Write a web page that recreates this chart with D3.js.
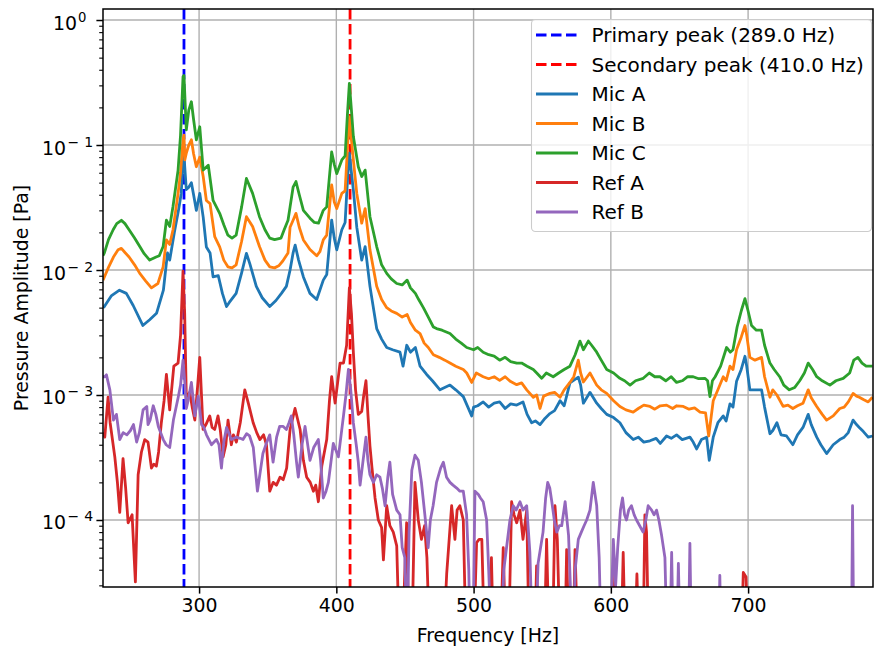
<!DOCTYPE html>
<html><head><meta charset="utf-8">
<script src="https://cdn.jsdelivr.net/npm/d3@7"></script>
<style>
body{margin:0;background:#fff}
svg{display:block}
text{font-family:"DejaVu Sans",sans-serif;fill:#000}
</style>
</head><body>
<svg id="chart" width="874" height="652"></svg>
<script>
// ---------------- data ----------------
const micAFreq = [230,231,236,242,247,252,259,264,269,274,277,278.6,282,285,287,288.3,289,290.7,292.5,294.4,296,298,300.5,303,305.3,308,310.2,314,317,320,322,327,331,334.5,337,341.7,346,351.5,356,360,363.6,366.3,368.5,370,372.5,376,380.8,385.7,390.5,393,396.6,398.5,400.3,404,406.4,408,409.5,411,412.4,414.9,418.5,421,424.5,429.4,433,436.7,441,446.4,448.6,451.3,454,457.6,461,465.8,470,475.5,482.8,487,492.5,498.6,500,503,507,511,515,519,523,527,531.4,536,539,542.3,545,548.4,552,555.6,559,563,566,570.2,576.3,578,580,584.8,589.7,593,597,602,606.6,611,616.3,620,624,628.5,633,636,640.6,644,647.9,652,657.6,660,662.5,666,669.8,671.7,674.6,678,681.9,684,686.8,689,691.6,695,697.7,699,701.3,705,709.8,712,715.9,718,721,724,728,732.6,736,740,743.8,746,750,753,757.2,762,766.8,770,773,776.5,779,781,784,787.5,790.6];
const micAVal = [0.0050,0.0051,0.0062,0.0069,0.0065,0.0052,0.0036,0.0040,0.0045,0.0069,0.0137,0.012,0.020,0.030,0.041,0.076,0.082,0.044,0.046,0.050,0.040,0.030,0.041,0.0265,0.0153,0.0137,0.0088,0.009,0.0065,0.0051,0.0055,0.0065,0.0095,0.0136,0.0112,0.0074,0.006,0.0051,0.0057,0.0065,0.0074,0.010,0.0137,0.0158,0.012,0.0088,0.0065,0.0058,0.0083,0.0092,0.0251,0.018,0.0145,0.021,0.024,0.05,0.086,0.06,0.0437,0.022,0.012,0.0154,0.0074,0.0034,0.0028,0.0024,0.0023,0.0022,0.0017,0.0025,0.0022,0.0024,0.0017,0.00146,0.0013,0.0011,0.0012,0.0011,0.00097,0.00068,0.0008,0.00082,0.00088,0.0008,0.00086,0.00088,0.00078,0.00085,0.00083,0.00088,0.0007,0.0006,0.00062,0.00058,0.00065,0.00071,0.00075,0.0009,0.00082,0.00125,0.00139,0.0012,0.00086,0.00105,0.00086,0.00078,0.0007,0.00066,0.0006,0.0005,0.00044,0.00046,0.00042,0.00043,0.00045,0.00041,0.00047,0.00045,0.00048,0.00044,0.00046,0.00042,0.00037,0.00044,0.00046,0.0003,0.00046,0.0006,0.00068,0.00062,0.00085,0.0008,0.00129,0.0016,0.00204,0.0017,0.0011,0.0011,0.0011,0.0008,0.00049,0.00052,0.0006,0.00048,0.00047,0.0004,0.00048,0.00055,0.0007,0.00058,0.00046,0.0004,0.00034,0.0004,0.00044,0.00046,0.0005,0.00063,0.00058,0.00055,0.00051,0.00046,0.00047];

const micBFreq = [230,231,234,237.6,241,243.4,246,249,253,256.8,261,265.3,270,273.8,276.2,278.6,281,284.7,286.5,288.3,289,289.6,290.7,292.5,294.4,296,298,300.5,303,305.3,308,311.4,315,318,321,324,327,331,334.5,339,344,348,351.5,355,358,361,364.8,366.3,368.5,370.6,373,376,380.8,385.7,388,390.5,393,396.6,398.5,400.3,404,406.4,408,409.5,411,412.4,414.9,418.5,421,424.5,429.4,433,436.7,440,444,448,451.6,454,457.6,461,464,467,470.7,475,479,482.8,487,492.5,495,498.6,502,507,511,515,519,523,527,531.4,535,538.7,543.5,546,548.4,551,555.6,559,563,566,570.2,573,576.3,578,580,584.8,589.7,593,597,602,606.6,611,616.3,620,624,628.5,632,636,640.6,645,648,652.8,657,661,665,669,671.3,674.6,678,681.9,684,686.8,689,691.6,695,697.7,699,701.3,705,709.8,712,715.9,718,721,725.5,729,732.6,736,740,743.8,746,750,754,757.2,762,766.8,770,773,776.5,779,781,784,787.5,790.6];
const micBVal = [0.0083,0.0088,0.0105,0.0127,0.0145,0.0149,0.0138,0.0127,0.011,0.0094,0.0082,0.0072,0.0078,0.0106,0.0174,0.016,0.021,0.041,0.06,0.11,0.12,0.076,0.086,0.1,0.11,0.085,0.067,0.08,0.056,0.036,0.034,0.0185,0.0153,0.012,0.0106,0.0104,0.011,0.017,0.0267,0.0223,0.0154,0.012,0.0106,0.0104,0.0108,0.0118,0.0137,0.022,0.025,0.0284,0.022,0.0174,0.0146,0.013,0.014,0.0174,0.019,0.048,0.035,0.031,0.041,0.043,0.09,0.168,0.11,0.076,0.041,0.0237,0.031,0.0145,0.0074,0.0058,0.005,0.0047,0.0045,0.0042,0.0044,0.0038,0.0033,0.0031,0.0026,0.0024,0.0021,0.002,0.0019,0.0018,0.0017,0.0016,0.0015,0.00126,0.0015,0.0014,0.00135,0.0014,0.00131,0.0014,0.00128,0.00121,0.00125,0.0011,0.00096,0.001,0.00078,0.00098,0.00103,0.00105,0.00096,0.0011,0.00126,0.0014,0.0019,0.0015,0.00127,0.0015,0.0012,0.0011,0.00103,0.0009,0.00081,0.00076,0.00073,0.00078,0.00083,0.00081,0.00077,0.00082,0.00083,0.00078,0.00082,0.00081,0.00077,0.00079,0.00073,0.00072,0.00047,0.0009,0.0011,0.0014,0.0013,0.0017,0.0016,0.0023,0.0029,0.0036,0.003,0.002,0.0019,0.002,0.0014,0.00096,0.0011,0.001,0.00081,0.00083,0.00078,0.00082,0.00086,0.0011,0.00095,0.00081,0.0007,0.00063,0.00068,0.00078,0.0008,0.00088,0.00103,0.00098,0.00096,0.00092,0.00088,0.00096];

const micCFreq = [230,231,234,237.4,240,243.4,246,249,253,256.8,260,264,268.7,271,273.8,276.2,278.6,281,284.7,286.5,288.3,289,290.7,292.5,294.4,296,298,300.5,303,306.7,310.2,315,318,321,324,327,331,334.5,339,344,348,351.5,355,359.7,362,364.8,366.3,368.5,370.6,373,376,380.8,384,387,390.5,393,396.6,398.5,400.3,404,406.4,408,409.5,411,412.4,416,418.5,421,424.5,429.4,433,436.7,440,444,448,451.6,454,457.6,460,463.4,467,470.7,473,477,482.8,487,491,495,500,503,507,511,515,519,523,527,531.4,535,539,543.5,546,549.6,553,558,562,566,570.2,574,577.5,580,583.6,586,589.7,593,597,602,606.6,610,614,618,623.6,628,632,635.8,640,644,647.9,652,656,660,664,668.5,670.5,672.2,674,676,680,684.3,687,689,692,695,697.7,700,702.5,706,709.8,712,715.9,719,723,726,730,734,737.6,741,743.8,747,750,754,759.6,764,769.3,774,777,780,783,786,790.6];
const micCVal = [0.013,0.0137,0.0175,0.021,0.0235,0.025,0.0235,0.021,0.018,0.0154,0.0135,0.012,0.0127,0.013,0.0154,0.025,0.0223,0.0322,0.063,0.12,0.352,0.36,0.132,0.19,0.222,0.16,0.11,0.14,0.063,0.069,0.036,0.0284,0.023,0.019,0.018,0.019,0.032,0.054,0.041,0.0267,0.021,0.018,0.0175,0.018,0.021,0.025,0.032,0.046,0.051,0.04,0.03,0.026,0.024,0.0237,0.03,0.032,0.088,0.07,0.059,0.076,0.082,0.17,0.311,0.19,0.117,0.067,0.056,0.063,0.0267,0.0154,0.011,0.0094,0.0085,0.0078,0.0076,0.0083,0.0072,0.0065,0.0058,0.005,0.0042,0.0035,0.0034,0.0033,0.0031,0.0028,0.0026,0.0024,0.0023,0.0024,0.0022,0.0021,0.00205,0.0019,0.002,0.00185,0.0018,0.0018,0.0017,0.0016,0.0015,0.00136,0.0015,0.0014,0.0015,0.0016,0.0017,0.0021,0.0027,0.0023,0.0027,0.0025,0.0022,0.0019,0.0016,0.0015,0.00136,0.0013,0.0012,0.0013,0.00136,0.0015,0.0014,0.0014,0.0013,0.0014,0.00126,0.0013,0.0014,0.0014,0.00135,0.00136,0.0013,0.00097,0.0013,0.0014,0.0017,0.0024,0.0022,0.0023,0.0035,0.0047,0.0059,0.0047,0.0036,0.0033,0.0033,0.0025,0.0018,0.0016,0.0014,0.0012,0.0011,0.00115,0.0013,0.0015,0.0018,0.0016,0.0014,0.0013,0.0012,0.0013,0.00136,0.0015,0.0019,0.002,0.0018,0.0017,0.0017];

const refAFreq = [230,231.3,233.7,235.2,238.6,240.5,242.2,244.6,246.5,248.3,251.2,253.6,255.6,258,260.4,262.8,265.3,267,268.9,270.5,272.5,274.5,276.2,278.6,281.6,284.7,286.5,288.3,289.5,290.7,293.2,295,296.9,299,300.5,302.9,305,307.8,309.5,311.4,313.8,315.5,317.5,319.5,321.1,323.5,325,327.2,330,333.3,336,339.4,342,344.3,347,349.1,351.5,354,356.4,359,361.3,363.8,366.3,369.9,373.6,376,378.4,381,383.3,385,386.9,389.4,393,395,396.6,399.1,402.7,405.2,407.5,409.5,411,412.4,414,416,418.5,420,421.6,423,424.5,426,428.2,430.6,433,434.3,436.7,439,441.5,444,446,448,451.2,453,455,457.3,459.7,462,464.3,466,468,478,480.4,484,486.4,488,490,492.5,494.5,500,502.2,504,506,508,511,513,514.5,519.5,521.6,523.5,525.5,527.7,529.5,531.4,533.8,536,538.7,540.5,544.5,545.9,547.5,551.5,553.2,555,557.5,559.3,561,563,566.5,567.8,569.5,572.5,573.9,576,601.5,603,604.5,607.5,609,610.5,617.5,619,620.5,623.5,624.8,626,627.5,695,696.5,698.5,700,790.6];
const refAVal = [0.0005,0.00046,0.00096,0.0006,0.00032,0.0002,0.000115,0.00031,0.00018,0.000095,0.00011,0.000032,0.00023,0.00035,0.00044,0.00042,0.00026,0.00028,0.00027,0.00035,0.0006,0.0009,0.00146,0.00076,0.0017,0.0018,0.003,0.0098,0.0045,0.00096,0.00105,0.0008,0.00063,0.0012,0.002,0.00053,0.00058,0.00068,0.00055,0.00053,0.00068,0.00052,0.00032,0.0004,0.00063,0.0004,0.00048,0.00042,0.0006,0.0011,0.00085,0.0006,0.0005,0.00044,0.00048,0.0004,0.00017,0.0002,0.00019,0.00022,0.00021,0.00026,0.00053,0.00078,0.00053,0.0003,0.00022,0.0002,0.00017,0.00019,0.00014,0.00027,0.00044,0.0009,0.0014,0.00086,0.0018,0.0018,0.0025,0.0072,0.0045,0.0022,0.0011,0.0007,0.00074,0.001,0.0013,0.0007,0.00039,0.00026,0.00015,0.0001,0.000087,0.000048,0.00013,0.00009,0.00008,0.000062,0.00001,0.00001,0.000095,0.00001,0.00001,0.0002,0.0001,0.00007,0.00009,0.00005,0.00001,0.00001,0.000037,0.00013,0.00007,0.00012,0.00013,0.0001,0.00001,0.00001,0.000066,0.00007,0.00007,0.00001,0.00001,0.00005,0.00001,0.00001,0.00006,0.00001,0.00001,0.00014,0.00011,0.000095,0.00012,0.00007,0.00012,0.00001,0.00001,0.000043,0.00001,0.00001,0.00007,0.00001,0.00001,0.00013,0.00007,0.00001,0.00001,0.000058,0.00001,0.00001,0.000058,0.00001,0.00001,0.000043,0.00001,0.00001,0.000055,0.00001,0.00001,0.000037,0.00001,0.00001,0.00011,0.00008,0.00001,0.00001,0.000038,0.000035,0.00001,0.00001];

const refBFreq = [230,231.3,232.5,235,237.6,239.8,242.2,244.7,247.4,250,252.2,254.5,256.5,259.2,261.9,262.8,264.3,266.6,268.5,270.3,273.9,276,278.6,281.3,284.8,286.5,288.3,289.5,290.7,292,294.4,295.8,296.9,299.4,301.8,303.5,305.4,309,312.7,314.5,316.3,318,320,323.5,327,330,332,334.6,336.8,339.5,342.5,346.5,349,351.5,353.9,356.5,358.7,361.3,363.6,365.5,367.2,369,371,372.3,375,377.2,380.8,383.5,386.9,388.5,390.5,392.5,394.2,397.8,401.5,405.2,407,408.8,410.5,412.4,414.5,416,417.3,419.5,421.6,423,424.5,427,429.4,431.8,433.5,435.5,437.5,439,441,444,446.4,448,449.9,451.5,453,455,457.3,459.7,462,464.5,466.9,468.5,470.5,473,476,478,480.3,482.8,485,487.7,490,492.5,494.9,496.5,497.5,499.5,501,503.5,505,507,509.5,511,513,520,522,524,526.5,528.9,531,533.8,536,538.7,541,543,545,547,550.6,552.5,554,555.5,557,558.8,560.6,562.5,564.2,566.7,569.2,570.5,572.5,574,576.3,578.5,580.5,582.4,584.8,587.2,589.7,591.5,593,599.5,601.8,603.5,605,607,608.5,610,611.4,613,615,617,618.7,621,623.5,625.5,627.2,629.7,631.5,633.3,635,637,639.4,641,643,644.3,645.5,648,649.2,650.5,656.5,657.6,658.7,678.5,679.4,680.3,775.3,776.1,777,790.6];
const refBVal = [0.0014,0.0014,0.00145,0.0011,0.00063,0.0007,0.00044,0.0005,0.00048,0.00052,0.00058,0.00042,0.0005,0.00076,0.00081,0.00058,0.00063,0.00082,0.0007,0.00056,0.00044,0.0004,0.00038,0.00063,0.00096,0.0012,0.0019,0.0013,0.00078,0.0009,0.00126,0.0009,0.00068,0.00098,0.00058,0.00055,0.00048,0.0004,0.00044,0.0004,0.00026,0.00042,0.00055,0.00044,0.00046,0.00045,0.00044,0.00049,0.00047,0.00038,0.00017,0.00034,0.00041,0.00048,0.00029,0.00046,0.00056,0.00056,0.00053,0.0006,0.00068,0.00048,0.00029,0.00022,0.0004,0.00056,0.0003,0.00038,0.00044,0.0003,0.00015,0.00017,0.0002,0.00041,0.00032,0.00068,0.001,0.0016,0.0011,0.0006,0.0004,0.00029,0.00019,0.0003,0.00046,0.0003,0.00023,0.0002,0.00023,0.00022,0.00018,0.00013,0.00022,0.00029,0.00016,0.00012,0.00011,0.00006,0.00005,0.00001,0.00008,0.00025,0.00033,0.0003,0.0002,0.00011,0.00006,0.0001,0.00013,0.0002,0.00026,0.00029,0.00022,0.0002,0.00019,0.00018,0.00017,0.00017,0.00011,0.00004,0.00001,0.00001,0.00017,0.00016,0.00015,0.00014,0.0001,0.00004,0.00001,0.00001,0.00004,0.00006,0.0001,0.00013,0.00012,0.00014,0.00012,0.00013,0.000055,0.00001,0.00001,0.000045,0.00008,0.00015,0.0002,0.00018,0.00014,0.0001,0.00008,0.00009,0.00009,0.00014,0.000075,0.00003,0.00001,0.00004,0.00007,0.00008,0.00009,0.0001,0.00012,0.0002,0.00013,0.00005,0.00001,0.00001,0.00007,0.00003,0.00006,0.00012,0.00015,0.00011,0.0001,0.00012,0.00013,0.00011,0.0001,0.00009,0.00008,0.0001,0.00013,0.00012,0.00011,0.00012,0.0001,0.000075,0.00005,0.00001,0.00001,0.000055,0.00001,0.00001,0.000045,0.00001,0.00001,0.000065,0.00001,0.00001,0.000036,0.00001,0.00001,0.00013,0.00001,0.00001];

const seriesNames = ["Mic A","Mic B","Mic C","Ref A","Ref B"];
const seriesColors = ["#1f77b4","#ff7f0e","#2ca02c","#d62728","#9467bd"];
const peakFreqs = [289.0, 410.0];
const peakNames = ["Primary peak (289.0 Hz)","Secondary peak (410.0 Hz)"];
const peakColors = ["#0000ff","#ff0000"];
const xTickValues = [300,400,500,600,700];
const yTickExponents = [-4,-3,-2,-1,0];
const xDomain = [230, 791];
const yDomain = [2.91e-5, 1.225];

// ---------------- chart ----------------
const svg = d3.select("#chart");
const L = 103, T = 9, R = 873, B = 587;
const x = d3.scaleLinear().domain(xDomain).range([L, R]);
const y = d3.scaleLog().domain(yDomain).range([B, T]);

const series = [
  {name: seriesNames[0], color: seriesColors[0], f: micAFreq, v: micAVal},
  {name: seriesNames[1], color: seriesColors[1], f: micBFreq, v: micBVal},
  {name: seriesNames[2], color: seriesColors[2], f: micCFreq, v: micCVal},
  {name: seriesNames[3], color: seriesColors[3], f: refAFreq, v: refAVal},
  {name: seriesNames[4], color: seriesColors[4], f: refBFreq, v: refBVal}
];

svg.append("defs").append("clipPath").attr("id","clip")
  .append("rect").attr("x", L).attr("y", T).attr("width", R - L).attr("height", B - T);

// grid
const majorY = yTickExponents.map(e => Math.pow(10, e));
const grid = svg.append("g").attr("stroke", "#b0b0b0").attr("stroke-width", 1.4);
grid.selectAll("line.gx").data(xTickValues).join("line")
  .attr("x1", d => x(d)).attr("x2", d => x(d)).attr("y1", T).attr("y2", B);
grid.selectAll("line.gy").data(majorY).join("line")
  .attr("x1", L).attr("x2", R).attr("y1", d => y(d)).attr("y2", d => y(d));

const plot = svg.append("g").attr("clip-path", "url(#clip)");

// peak lines
plot.selectAll("line.peak").data(peakFreqs).join("line")
  .attr("x1", d => x(d)).attr("x2", d => x(d)).attr("y1", T).attr("y2", B)
  .attr("stroke", (d, i) => peakColors[i]).attr("stroke-width", 2.8)
  .attr("stroke-dasharray", "10.5,4.5");

// series
const line = d3.line().x(d => x(d[0])).y(d => y(d[1]));
series.forEach(s => {
  const pts = s.f.map((f, i) => [f, s.v[i]]);
  plot.append("path").datum(pts).attr("d", line)
    .attr("fill", "none").attr("stroke", s.color).attr("stroke-width", 2.8)
    .attr("stroke-linejoin", "round");
});

// axes
const xAxis = d3.axisBottom(x).tickValues(xTickValues).tickSize(6.6).tickPadding(5).tickFormat(d3.format("d"));
const gx = svg.append("g").attr("transform", `translate(0,${B})`).call(xAxis);
gx.select(".domain").remove();
gx.selectAll(".tick line").attr("stroke", "#000").attr("stroke-width", 1.5);
gx.selectAll(".tick text").attr("font-size", 18.9).attr("font-family", "DejaVu Sans").attr("fill", "#000").attr("dy", "0.71em");

const minorY = [];
for (let e = -5; e <= 0; e++) for (let k = 2; k <= 9; k++) {
  const v = k * Math.pow(10, e);
  if (v >= yDomain[0] && v <= yDomain[1]) minorY.push(v);
}
const gyMinor = svg.append("g").attr("transform", `translate(${L},0)`)
  .call(d3.axisLeft(y).tickValues(minorY).tickSize(3.8).tickFormat(""));
gyMinor.select(".domain").remove();
gyMinor.selectAll(".tick line").attr("stroke", "#000").attr("stroke-width", 1.1);

const gy = svg.append("g").attr("transform", `translate(${L},0)`)
  .call(d3.axisLeft(y).tickValues(majorY).tickSize(6.6).tickFormat(""));
gy.select(".domain").remove();
gy.selectAll(".tick line").attr("stroke", "#000").attr("stroke-width", 1.5);

// y tick labels with superscript exponents (mathtext-like spacing)
const yl = svg.append("g");
yTickExponents.forEach(e => {
  const neg = e < 0;
  const t = yl.append("text").attr("x", neg ? 42 : 53).attr("y", y(Math.pow(10, e)) + 9.5)
    .attr("font-size", 18.9);
  t.append("tspan").text("10");
  if (neg) {
    t.append("tspan").attr("font-size", 14).attr("dy", -8).attr("dx", 1.5).text("\u2212");
    t.append("tspan").attr("font-size", 14).attr("dx", 5).text(String(-e));
  } else {
    t.append("tspan").attr("font-size", 13.2).attr("dy", -8).attr("dx", 1).text(String(e));
  }
});

// spines
svg.append("rect").attr("x", L).attr("y", T).attr("width", R - L).attr("height", B - T)
  .attr("fill", "none").attr("stroke", "#000").attr("stroke-width", 1.5);

// axis labels
svg.append("text").attr("x", (L + R) / 2).attr("y", 642).attr("text-anchor", "middle")
  .attr("font-size", 18.9).text("Frequency [Hz]");
svg.append("text").attr("transform", `translate(28,${(T + B) / 2}) rotate(-90)`)
  .attr("text-anchor", "middle").attr("font-size", 18.9).text("Pressure Amplitude [Pa]");

// legend
const legItems = peakNames.map((n, i) => ({name: n, color: peakColors[i], dash: true}))
  .concat(series.map(s => ({name: s.name, color: s.color, dash: false})));
const leg = svg.append("g");
leg.append("rect").attr("x", 531.5).attr("y", 19.5).attr("width", 340).attr("height", 212)
  .attr("rx", 4).attr("fill", "#fff").attr("fill-opacity", 0.8).attr("stroke", "#cccccc").attr("stroke-width", 1.1);
legItems.forEach((it, i) => {
  const cy = 35 + i * 29.5;
  leg.append("line").attr("x1", 536).attr("x2", 578).attr("y1", cy).attr("y2", cy)
    .attr("stroke", it.color).attr("stroke-width", 2.8)
    .attr("stroke-dasharray", it.dash ? "10.5,4.5" : null);
  leg.append("text").attr("x", 591.5).attr("y", cy).attr("dy", "0.36em")
    .attr("font-size", 20).text(it.name);
});
</script>
</body></html>
